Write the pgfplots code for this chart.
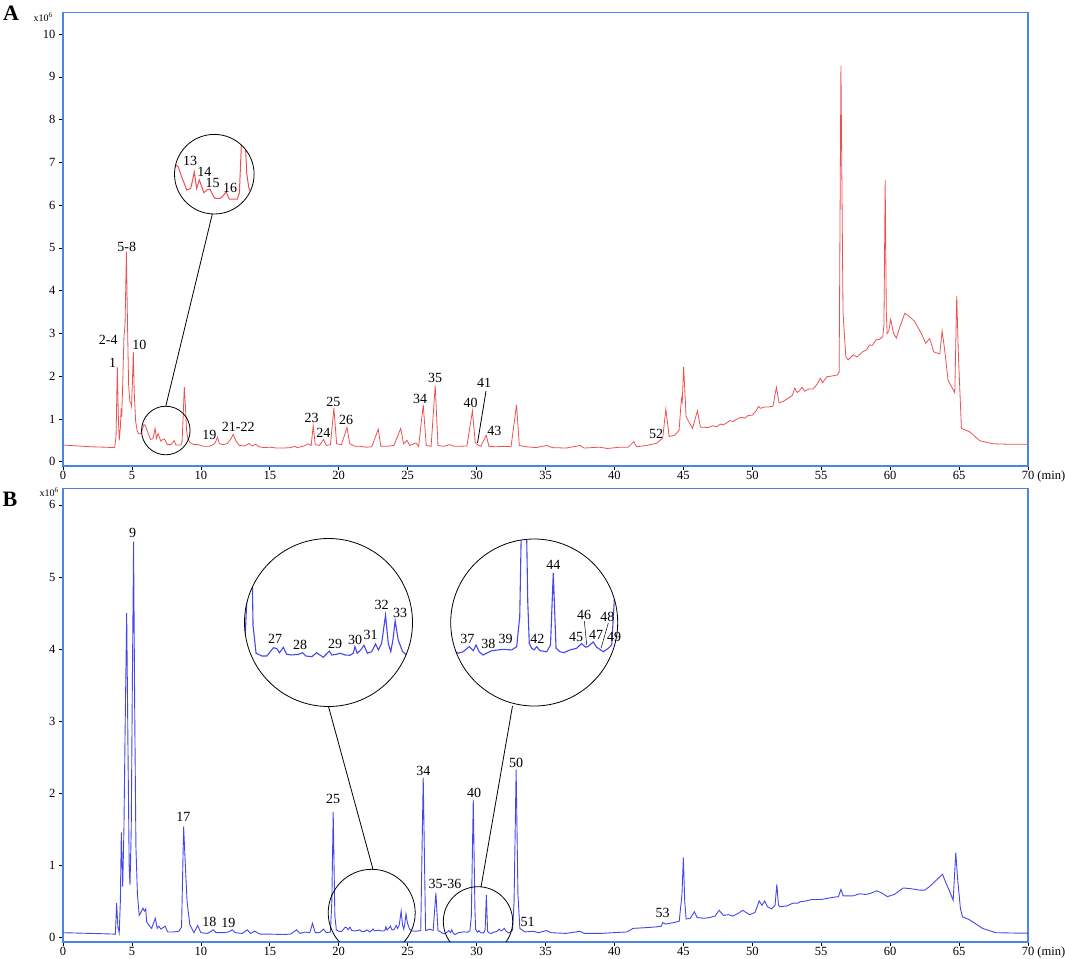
\documentclass[border=0pt]{standalone}
\usepackage{pgfplots}
\usepackage{pgfplotstable}
\pgfplotsset{compat=1.18}
\usepackage{fontspec}
\setmainfont{Liberation Serif}
\definecolor{frameblue}{RGB}{74,134,232}
\definecolor{tracered}{RGB}{238,80,80}
\definecolor{traceblue}{RGB}{70,70,235}

\pgfplotstableread{
x y
0 0.39
1 0.37
2 0.35
3 0.34
3.75 0.33
3.85 0.6
3.94 2.22
4.02 1.0
4.08 0.5
4.16 0.8
4.22 1.25
4.26 1.05
4.33 1.8
4.42 2.92
4.5 3.2
4.6 4.91
4.68 3.2
4.76 1.8
4.85 1.40
4.92 1.38
4.97 1.3
5.03 1.8
5.1 2.57
5.17 1.6
5.27 0.95
5.38 0.72
5.5 0.65
5.65 0.66
5.78 0.78
5.87 0.87
5.98 0.845
6.13 0.705
6.35 0.52
6.52 0.54
6.61 0.66
6.68 0.775
6.78 0.54
6.9 0.66
7.0 0.565
7.1 0.48
7.23 0.52
7.36 0.53
7.47 0.46
7.58 0.40
7.8 0.40
7.93 0.435
8.06 0.495
8.2 0.39
8.55 0.39
8.64 0.48
8.72 1.1
8.8 1.75
8.88 1.3
8.96 0.75
9.05 0.55
9.2 0.45
9.5 0.40
9.8 0.40
10.2 0.36
10.6 0.36
10.9 0.40
11.05 0.45
11.2 0.57
11.35 0.42
11.6 0.40
11.9 0.42
12.15 0.52
12.35 0.64
12.55 0.48
12.8 0.38
13.2 0.37
13.5 0.43
13.7 0.37
14.0 0.41
14.2 0.35
14.6 0.33
15.0 0.34
15.5 0.32
16.0 0.32
16.5 0.33
16.8 0.36
17.0 0.33
17.5 0.37
17.8 0.42
18.0 0.38
18.15 0.84
18.3 0.40
18.6 0.38
18.9 0.52
19.1 0.38
19.4 0.40
19.65 1.25
19.85 0.42
20.2 0.40
20.6 0.80
20.8 0.42
21.2 0.36
21.6 0.36
22.0 0.34
22.4 0.35
22.87 0.76
23.05 0.36
23.5 0.36
24.0 0.38
24.5 0.78
24.7 0.42
24.95 0.50
25.15 0.38
25.6 0.44
25.8 0.36
26.13 1.33
26.35 0.38
26.7 0.36
27.0 1.78
27.2 0.38
27.6 0.36
28.06 0.40
28.4 0.36
28.8 0.36
29.3 0.37
29.7 1.19
29.9 0.45
30.05 0.40
30.3 0.36
30.7 0.62
30.9 0.36
31.4 0.35
32.0 0.36
32.5 0.35
32.9 1.33
33.1 0.38
33.6 0.35
34.3 0.33
35.1 0.38
35.5 0.33
36.5 0.32
37.5 0.38
37.8 0.32
38.9 0.34
39.5 0.31
40.4 0.34
41.0 0.34
41.4 0.47
41.6 0.35
42.3 0.38
43.05 0.43
43.5 0.55
43.73 1.23
43.97 0.59
44.38 0.62
44.69 0.74
44.86 1.48
44.92 1.40
45.02 2.22
45.2 1.05
45.66 0.78
46.02 1.19
46.24 0.81
46.8 0.80
47.1 0.84
47.4 0.82
47.7 0.88
47.9 0.86
48.2 0.92
48.37 0.96
48.6 0.94
48.9 1.00
49.2 1.04
49.46 1.02
49.7 1.08
50.0 1.09
50.3 1.2
50.44 1.29
50.6 1.25
50.9 1.28
51.2 1.28
51.5 1.30
51.75 1.74
51.94 1.38
52.2 1.40
52.48 1.46
52.9 1.55
53.08 1.72
53.25 1.62
53.4 1.65
53.6 1.74
53.8 1.65
54.1 1.70
54.4 1.70
54.65 1.79
54.94 1.95
55.1 1.85
55.42 1.99
55.7 2.00
56.17 2.03
56.3 2.1
56.43 9.26
56.58 3.5
56.78 2.46
56.95 2.38
57.32 2.50
57.6 2.45
58.0 2.57
58.3 2.62
58.5 2.73
58.7 2.72
58.98 2.85
59.2 2.86
59.46 2.92
59.55 3.2
59.64 6.58
59.72 3.5
59.78 3.0
59.9 3.05
60.04 3.33
60.25 3.0
60.45 2.89
60.7 3.15
61.06 3.47
61.3 3.42
61.55 3.35
61.78 3.28
62.0 3.15
62.26 3.0
62.58 2.77
62.87 2.88
63.16 2.57
63.6 2.52
63.77 3.06
63.96 2.6
64.2 1.91
64.69 1.61
64.83 3.88
64.95 2.5
65.17 0.78
65.77 0.70
66.5 0.49
67.46 0.42
68.5 0.41
70 0.41
}\dataA

\pgfplotstableread{
x y
0 0.07
1 0.065
2 0.06
3 0.055
3.8 0.05
3.89 0.48
3.98 0.15
4.08 0.07
4.16 0.5
4.23 1.46
4.33 0.71
4.42 1.5
4.5 2.8
4.62 4.5
4.72 2.5
4.8 1.0
4.86 0.73
4.95 1.5
5.03 3.5
5.12 5.49
5.2 3.2
5.29 1.26
5.4 0.6
5.53 0.31
5.65 0.35
5.8 0.41
5.9 0.37
6.0 0.40
6.07 0.22
6.25 0.17
6.43 0.13
6.7 0.27
6.83 0.13
6.95 0.16
7.1 0.12
7.4 0.16
7.6 0.08
8.0 0.08
8.4 0.09
8.6 0.15
8.75 1.54
8.9 0.9
9.0 0.5
9.2 0.18
9.5 0.07
9.77 0.17
10.0 0.07
10.5 0.06
10.9 0.11
11.1 0.07
11.6 0.07
12.0 0.08
12.28 0.11
12.5 0.07
13.0 0.06
13.37 0.11
13.6 0.06
13.9 0.09
14.3 0.05
15 0.05
16 0.045
16.5 0.05
16.95 0.11
17.2 0.06
17.6 0.08
17.9 0.07
18.1 0.2
18.3 0.07
18.6 0.07
18.9 0.12
19.1 0.07
19.4 0.08
19.5 0.5
19.6 1.74
19.72 0.3
19.83 0.107
20.04 0.088
20.22 0.088
20.46 0.145
20.58 0.14
20.68 0.11
20.82 0.148
20.94 0.1
21.13 0.095
21.37 0.1
21.52 0.11
21.64 0.088
21.85 0.083
22.03 0.11
22.15 0.095
22.27 0.079
22.49 0.122
22.58 0.095
22.76 0.1
22.88 0.107
23.06 0.095
23.24 0.093
23.36 0.107
23.42 0.152
23.5 0.107
23.63 0.13
23.75 0.162
23.87 0.107
24.03 0.118
24.17 0.171
24.27 0.13
24.39 0.176
24.53 0.37
24.63 0.176
24.72 0.118
24.8 0.2
24.88 0.332
24.99 0.2
25.15 0.118
25.3 0.095
25.6 0.09
25.95 0.1
26.13 2.22
26.3 0.1
26.6 0.12
26.85 0.1
27.05 0.62
27.2 0.1
27.4 0.08
27.62 0.055
27.78 0.065
27.98 0.099
28.11 0.072
28.2 0.11
28.3 0.065
28.43 0.043
28.71 0.072
29.09 0.081
29.36 0.077
29.52 0.099
29.62 0.3
29.76 1.91
29.88 0.4
29.93 0.12
30.01 0.088
30.09 0.077
30.17 0.099
30.28 0.072
30.5 0.065
30.62 0.11
30.71 0.59
30.8 0.088
30.93 0.065
31.06 0.059
31.25 0.077
31.47 0.088
31.63 0.12
31.76 0.095
31.84 0.1
32.01 0.13
32.12 0.095
32.34 0.065
32.5 0.088
32.61 0.11
32.72 0.5
32.87 2.33
33.0 0.6
33.14 0.13
33.5 0.08
34.1 0.09
34.5 0.07
35.07 0.1
35.4 0.07
36.5 0.06
37.5 0.09
37.8 0.06
39.0 0.06
39.9 0.07
40.9 0.08
41.36 0.13
42.3 0.14
43.0 0.15
43.4 0.16
43.5 0.21
43.7 0.19
44.3 0.21
44.7 0.23
44.9 0.6
45.0 1.11
45.1 0.5
45.2 0.26
45.5 0.27
45.8 0.36
46.0 0.28
46.5 0.27
46.9 0.28
47.3 0.3
47.6 0.38
47.9 0.31
48.3 0.32
48.58 0.30
49.0 0.34
49.3 0.38
49.8 0.32
50.2 0.35
50.5 0.51
50.7 0.45
50.9 0.51
51.1 0.43
51.4 0.40
51.65 0.45
51.78 0.74
51.9 0.45
52.0 0.43
52.5 0.44
52.96 0.48
53.3 0.48
53.5 0.50
53.9 0.51
54.3 0.53
55.0 0.53
55.84 0.56
56.25 0.57
56.43 0.67
56.6 0.58
57.3 0.58
57.8 0.61
58.2 0.60
58.5 0.61
59.03 0.65
59.4 0.62
59.8 0.57
60.3 0.60
60.95 0.69
61.5 0.68
62.15 0.66
62.5 0.66
62.8 0.70
63.36 0.80
63.8 0.88
64.0 0.78
64.3 0.65
64.57 0.52
64.76 1.18
64.9 0.8
65.1 0.4
65.25 0.29
65.75 0.25
66.7 0.13
67.66 0.07
69.0 0.065
70 0.065
}\dataB

\pgfplotsset{
  chrom/.style={
    scale only axis, width=965pt, xmin=0, xmax=70,
    axis line style={frameblue, line width=1.6pt},
    tick align=outside, xtick pos=bottom, ytick pos=left,
    major tick length=4pt,
    tick style={black, line width=0.6pt},
    xtick={0,5,10,15,20,25,30,35,40,45,50,55,60,65,70},
    xticklabels={0,5,10,15,20,25,30,35,40,45,50,55,60,65,{70\rlap{ (min)}}},
    ticklabel style={font=\fontsize{12.5}{12.5}\selectfont},
    xticklabel style={inner sep=1pt},
    /pgf/number format/assume math mode=true,
  },
  insetax/.style={hide axis, scale only axis, anchor=center, clip=false},
}
\newcommand{\lab}[3]{\node[font=\fontsize{14}{14}\selectfont, inner sep=0pt] at (#1pt,-#2pt) {#3};}

\begin{document}
\begin{tikzpicture}
\useasboundingbox (0pt,0pt) rectangle (1065pt,-958pt);

% ---------- Panel A ----------
\begin{axis}[chrom, at={(63pt,-12.7pt)}, anchor=north west, height=453.3pt,
  ymin=-0.1, ymax=10.5, ytick={0,1,2,3,4,5,6,7,8,9,10}]
\addplot[tracered, line width=0.8pt] table {\dataA};
\end{axis}

% ---------- Panel B ----------
\begin{axis}[chrom, at={(63pt,-488.3pt)}, anchor=north west, height=453.4pt,
  ymin=-0.055, ymax=6.23, ytick={0,1,2,3,4,5,6}]
\addplot[traceblue, line width=0.9pt] table {\dataB};
\end{axis}

% ---------- Inset A ----------
\begin{scope}
\clip (214.3pt,-174.2pt) circle[radius=39.8pt];
\begin{axis}[insetax, at={(214.3pt,-174.2pt)}, width=79.6pt, height=79.6pt,
  xmin=5.82, xmax=9.28, ymin=0.183, ymax=1.297]
\addplot[tracered, line width=1.0pt] table {\dataA};
\end{axis}
\end{scope}
\draw[line width=0.8pt] (214.3pt,-174.2pt) circle[radius=39.8pt];
\draw[line width=0.8pt] (165.8pt,-430.5pt) circle[radius=24.3pt];
\draw[line width=0.8pt] (165.7pt,-406.5pt) -- (212.3pt,-214.1pt);

% ---------- Inset B left ----------
\begin{scope}
\clip (328.5pt,-622.5pt) circle[radius=84pt];
\begin{axis}[insetax, at={(328.5pt,-622.5pt)}, width=168pt, height=168pt,
  xmin=19.41, xmax=25.51, ymin=-0.262, ymax=0.902]
\addplot[traceblue, line width=1.1pt] table {\dataB};
\end{axis}
\end{scope}
\draw[line width=0.8pt] (328.5pt,-622.5pt) circle[radius=84pt];

% ---------- Inset B right ----------
\begin{scope}
\clip (534.2pt,-622.5pt) circle[radius=83.5pt];
\begin{axis}[insetax, at={(534.2pt,-622.5pt)}, width=167pt, height=167pt,
  xmin=27.375, xmax=32.805, ymin=-0.297, ymax=0.817]
\addplot[traceblue, line width=1.1pt] table {\dataB};
\end{axis}
\end{scope}
\draw[line width=0.8pt] (534.2pt,-622.5pt) circle[radius=83.5pt];

\begin{scope}
\clip (63pt,-488pt) rectangle (1028pt,-941.7pt);
\draw[line width=0.8pt] (371.7pt,-912.8pt) circle[radius=43.5pt];
\draw[line width=0.8pt] (478pt,-921.4pt) circle[radius=34.7pt];
\end{scope}
\draw[line width=0.8pt] (328.5pt,-706.5pt) -- (373pt,-869.3pt);
\draw[line width=0.8pt] (512.5pt,-706pt) -- (481pt,-887pt);

% ---------- Panel letters and scale ----------
\node[font=\bfseries\fontsize{22}{22}\selectfont, inner sep=0pt] at (11pt,-13.5pt) {A};
\node[font=\bfseries\fontsize{22}{22}\selectfont, inner sep=0pt] at (10pt,-499pt) {B};
\node[font=\fontsize{10}{10}\selectfont, inner sep=0pt] at (43pt,-17pt) {x10\textsuperscript{6}};
\node[font=\fontsize{10}{10}\selectfont, inner sep=0pt] at (49pt,-492pt) {x10\textsuperscript{6}};

% ---------- Peak labels A ----------
\lab{112.7}{362.7}{1}
\lab{108.3}{340}{2-4}
\lab{126.7}{246.7}{5-8}
\lab{139.3}{345}{10}
\lab{190}{160.7}{13}
\lab{204.3}{171.7}{14}
\lab{212.7}{183.3}{15}
\lab{230}{187.7}{16}
\lab{209.3}{435}{19}
\lab{238.3}{426.7}{21-22}
\lab{311.7}{418.3}{23}
\lab{323.3}{433.3}{24}
\lab{333.3}{401.7}{25}
\lab{346}{420}{26}
\lab{420}{399.3}{34}
\lab{435}{377.7}{35}
\lab{470.7}{403.3}{40}
\lab{484}{383.3}{41}
\lab{494.3}{430.7}{43}
\lab{656}{434}{52}
\draw[line width=0.8pt] (486pt,-391pt) -- (477.5pt,-443pt);

% ---------- Peak labels B ----------
\lab{132.7}{533.3}{9}
\lab{183.3}{817.3}{17}
\lab{209.3}{921.7}{18}
\lab{228.3}{922.7}{19}
\lab{333}{799}{25}
\lab{423.3}{771}{34}
\lab{474}{793.3}{40}
\lab{445}{884}{35-36}
\lab{516}{763.3}{50}
\lab{527.7}{921.7}{51}
\lab{662.7}{912.7}{53}
\lab{275}{639.3}{27}
\lab{300}{645}{28}
\lab{335}{644}{29}
\lab{355}{640}{30}
\lab{370.7}{635}{31}
\lab{381.7}{605}{32}
\lab{400}{613.3}{33}
\lab{467.3}{639.3}{37}
\lab{488.3}{644}{38}
\lab{505.7}{639.3}{39}
\lab{537.3}{639.3}{42}
\lab{553.3}{565}{44}
\lab{576}{636.7}{45}
\lab{584}{615}{46}
\lab{596}{635}{47}
\lab{607.3}{616.7}{48}
\lab{614}{637.3}{49}
\draw[line width=0.5pt] (584.3pt,-621pt) -- (586.7pt,-645pt);
\draw[line width=0.5pt] (608.3pt,-623pt) -- (601pt,-648.3pt);
\end{tikzpicture}
\end{document}
